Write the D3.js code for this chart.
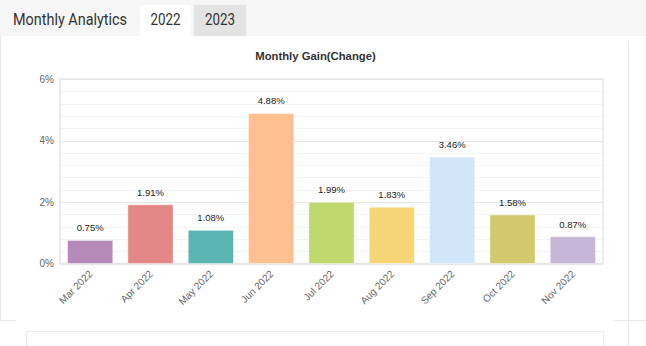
<!DOCTYPE html>
<html><head><meta charset="utf-8">
<script src="https://cdn.jsdelivr.net/npm/d3@7"></script>
<style>html,body{margin:0;padding:0;background:#fff;overflow:hidden}</style>
</head><body>
<svg id="c" width="646" height="346"></svg>
<script>
const months = ["Mar 2022","Apr 2022","May 2022","Jun 2022","Jul 2022","Aug 2022","Sep 2022","Oct 2022","Nov 2022"];
const gains = [0.75,1.91,1.08,4.88,1.99,1.83,3.46,1.58,0.87];
const barColors = ["#b589b8","#e38886","#5ab5b3","#ffbf91","#bfd96e","#f5d576","#d1e6f9","#d1c96b","#c6b6d8"];
const yTicks = [0,2,4,6];
const tabs = ["2022","2023"];

const svg = d3.select("#c");
// header
svg.append("rect").attr("x",0).attr("y",0).attr("width",646).attr("height",36).attr("fill","#f6f6f6");
svg.append("text").attr("x",13).attr("y",25).attr("font-family","Roboto").attr("font-size",16)
  .attr("fill","#333").attr("textLength",114).attr("lengthAdjust","spacingAndGlyphs").text("Monthly Analytics");
const tabX=[140,194], tabW=[51,52], tabFill=["#ffffff","#e3e3e3"];
tabs.forEach((t,i)=>{
  svg.append("rect").attr("x",tabX[i]).attr("y",5).attr("width",tabW[i]).attr("height",31).attr("fill",tabFill[i]);
  svg.append("text").attr("x",tabX[i]+tabW[i]/2).attr("y",25).attr("text-anchor","middle")
    .attr("font-family","Roboto").attr("font-size",16).attr("fill","#333")
    .attr("textLength",30).attr("lengthAdjust","spacingAndGlyphs").text(t);
});
// frame lines
const lc="#e8e8e8";
svg.append("line").attr("x1",0.5).attr("x2",0.5).attr("y1",36).attr("y2",320).attr("stroke",lc);
svg.append("line").attr("x1",628.5).attr("x2",628.5).attr("y1",41).attr("y2",346).attr("stroke",lc);
svg.append("line").attr("x1",0).attr("x2",16).attr("y1",320.5).attr("y2",320.5).attr("stroke",lc);
svg.append("line").attr("x1",613).attr("x2",646).attr("y1",320.5).attr("y2",320.5).attr("stroke",lc);
svg.append("rect").attr("x",26.5).attr("y",331.5).attr("width",577).attr("height",40).attr("fill","#fff").attr("stroke","#ececec");

// chart
const L=60,R=603,T=79,B=263.5;
const x=d3.scaleBand().domain(months).range([L,R]).paddingInner(0.25).paddingOuter(0.125);
const y=d3.scaleLinear().domain([0,6]).range([B,T]);

svg.append("text").attr("x",315.5).attr("y",60).attr("text-anchor","middle")
  .attr("font-family","Liberation Sans, Arial").attr("font-weight","bold").attr("font-size",11.3)
  .attr("fill","#333").text("Monthly Gain(Change)");

const minor=d3.range(0,6.0001,0.4);
svg.append("g").selectAll("line").data(minor).join("line")
  .attr("x1",L).attr("x2",R).attr("y1",d=>Math.round(y(d))+0.5).attr("y2",d=>Math.round(y(d))+0.5)
  .attr("stroke","#f3f3f3");
svg.append("g").selectAll("line").data(yTicks).join("line")
  .attr("x1",L).attr("x2",R).attr("y1",d=>Math.round(y(d))+0.5).attr("y2",d=>Math.round(y(d))+0.5)
  .attr("stroke","#e6e6e6");
// plot border
svg.append("rect").attr("x",L).attr("y",T).attr("width",R-L).attr("height",B-T)
  .attr("fill","none").attr("stroke","#e6e6e6").attr("stroke-width",1.5);

// y axis
const yAxis=d3.axisLeft(y).tickValues(yTicks).tickFormat(d=>d+"%").tickSize(0).tickPadding(6);
const ga=svg.append("g").attr("transform",`translate(${L},0)`).call(yAxis);
ga.select(".domain").remove();
ga.selectAll("text").attr("font-family","Liberation Sans, Arial").attr("font-size",10).attr("fill","#666");

// x axis
const xAxis=d3.axisBottom(x).tickSize(0).tickPadding(0);
const gx=svg.append("g").attr("transform",`translate(0,${B})`).call(xAxis);
gx.select(".domain").remove();
gx.selectAll("text").attr("font-family","Liberation Sans, Arial").attr("font-size",10).attr("fill","#666")
  .attr("text-anchor","end").attr("dy",null).attr("y",0)
  .attr("transform","translate(3,11) rotate(-45)");

// bars
svg.append("g").selectAll("rect").data(gains).join("rect")
  .attr("x",(d,i)=>x(months[i])).attr("width",x.bandwidth())
  .attr("y",d=>y(d)).attr("height",d=>B-y(d))
  .attr("fill",(d,i)=>barColors[i])
  .attr("stroke","rgba(255,255,255,0.45)").attr("stroke-width",1);

svg.append("g").selectAll("text").data(gains).join("text")
  .attr("x",(d,i)=>x(months[i])+x.bandwidth()/2).attr("y",d=>y(d)-9)
  .attr("text-anchor","middle").attr("font-family","Liberation Sans, Arial").attr("font-size",9.5)
  .attr("fill","#222").text(d=>d.toFixed(2)+"%");
</script>
</body></html>
